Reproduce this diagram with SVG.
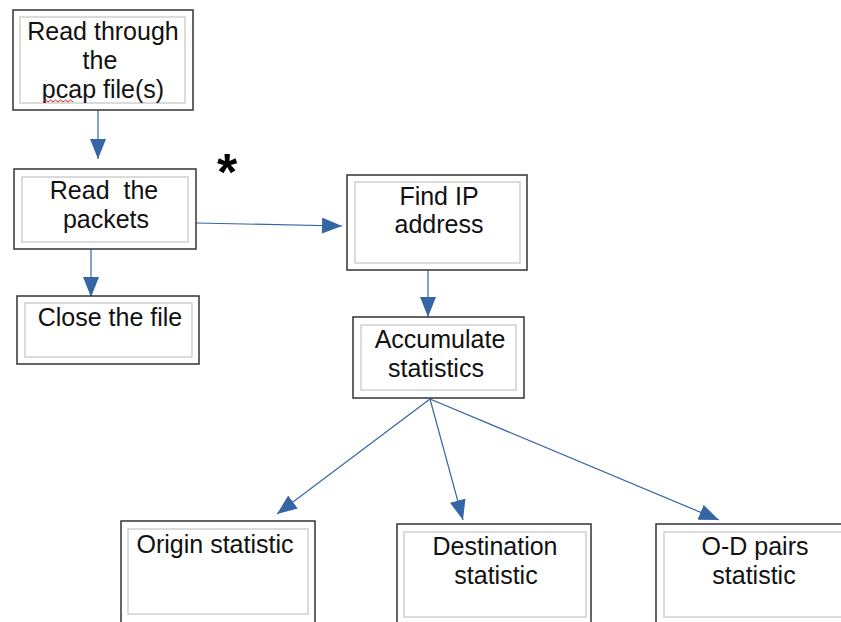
<svg xmlns="http://www.w3.org/2000/svg" width="841" height="622" viewBox="0 0 841 622">
<defs>
<marker id="ah" markerWidth="20" markerHeight="16" refX="20" refY="8" orient="auto" markerUnits="userSpaceOnUse" viewBox="0 0 20 16">
<path d="M0,0 L20,8 L0,16 Z" fill="#3465a4"/>
</marker>
<style>
.o{fill:#fff;stroke:#333;stroke-width:1.5}
.i{fill:none;stroke:#d0d0d0;stroke-width:1.5}
.t{font-family:"Liberation Sans",Arial,sans-serif;font-size:25px;fill:#111;text-anchor:middle}
.c{stroke:#3465a4;stroke-width:1.2;fill:none;marker-end:url(#ah)}
</style>
</defs>
<rect width="841" height="622" fill="#fff"/>
<g id="connectors">
<line class="c" x1="98" y1="110" x2="98" y2="159"/>
<line class="c" x1="91" y1="249" x2="91" y2="297"/>
<line class="c" x1="196" y1="223" x2="342" y2="226"/>
<line class="c" x1="428" y1="270" x2="428" y2="317"/>
<line class="c" x1="430" y1="399" x2="277" y2="514"/>
<line class="c" x1="430" y1="399" x2="463" y2="520"/>
<line class="c" x1="430" y1="399" x2="719" y2="520"/>
</g>
<g id="n1">
<rect class="o" x="13" y="10" width="180" height="100"/>
<rect class="i" x="20" y="17" width="165" height="86"/>
<text class="t" x="103" y="40">Read through</text>
<text class="t" x="100" y="69">the</text>
<text class="t" x="103" y="98">pcap file(s)</text>
<path d="M43,102 l2.5,-2 l2.5,2 l2.5,-2 l2.5,2 l2.5,-2 l2.5,2 l2.5,-2 l2.5,2 l2.5,-2 l2.5,2 l2.5,-2 l2.5,2" fill="none" stroke="#e02020" stroke-width="1"/>
</g>
<g id="n2">
<rect class="o" x="14" y="169" width="182" height="80"/>
<rect class="i" x="22" y="177" width="166" height="65"/>
<text class="t" x="104" y="199" xml:space="preserve">Read  the</text>
<text class="t" x="106" y="228">packets</text>
</g>
<text x="227" y="190" style="font-family:'Liberation Sans',Arial,sans-serif;font-size:52px;font-weight:bold;text-anchor:middle" fill="#000">*</text>
<g id="n3">
<rect class="o" x="17" y="296" width="182" height="68"/>
<rect class="i" x="25" y="303" width="167" height="54"/>
<text class="t" x="110" y="326">Close the file</text>
</g>
<g id="n4">
<rect class="o" x="347" y="175" width="180" height="95"/>
<rect class="i" x="355" y="182" width="165" height="81"/>
<text class="t" x="439" y="205">Find IP</text>
<text class="t" x="439" y="233">address</text>
</g>
<g id="n5">
<rect class="o" x="353" y="317" width="171" height="81"/>
<rect class="i" x="361" y="325" width="155" height="65"/>
<text class="t" x="440" y="348">Accumulate</text>
<text class="t" x="436" y="377">statistics</text>
</g>
<g id="n6">
<rect class="o" x="121" y="521" width="194" height="110"/>
<rect class="i" x="128" y="529" width="180" height="85"/>
<text class="t" x="215" y="553">Origin statistic</text>
</g>
<g id="n7">
<rect class="o" x="397" y="524" width="194" height="110"/>
<rect class="i" x="404" y="532" width="182" height="85"/>
<text class="t" x="495" y="555">Destination</text>
<text class="t" x="496" y="584">statistic</text>
</g>
<g id="n8">
<rect class="o" x="656" y="524" width="200" height="110"/>
<rect class="i" x="664" y="532" width="185" height="85"/>
<text class="t" x="755" y="555">O-D pairs</text>
<text class="t" x="754" y="584">statistic</text>
</g>
</svg>
